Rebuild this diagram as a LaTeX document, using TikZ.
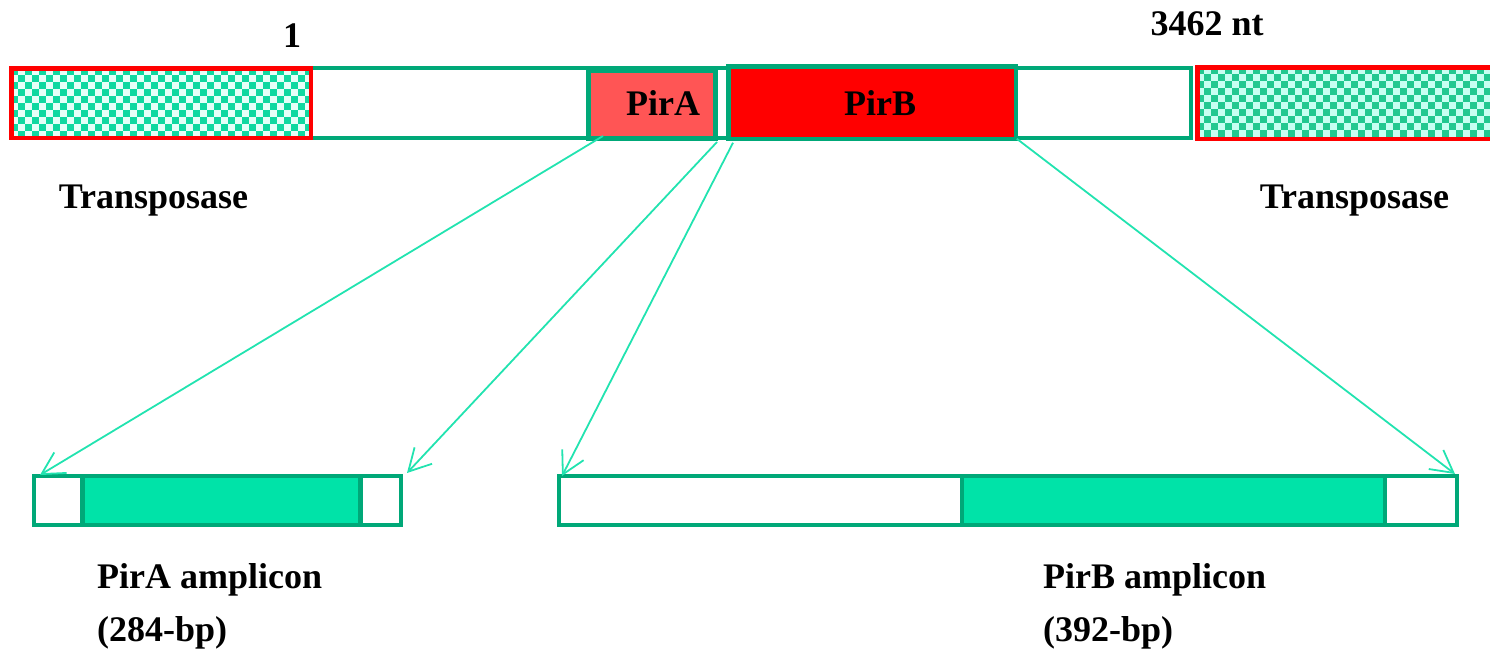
\documentclass[tikz,border=0pt]{standalone}
\usepackage{fontspec}
\setmainfont{Liberation Serif}
\usetikzlibrary{arrows.meta}

\definecolor{barline}{HTML}{00A878}
\definecolor{ampfill}{HTML}{00E3A8}
\definecolor{guide}{HTML}{22E3B0}
\definecolor{pirafill}{HTML}{FF5555}
\definecolor{pirbfill}{HTML}{FF0000}
\definecolor{tpred}{HTML}{FF0000}
\definecolor{chkgreenL}{HTML}{10D8A0}
\definecolor{chklightL}{HTML}{E6FFF8}
\definecolor{chkgreenR}{HTML}{22C890}
\definecolor{chklightR}{HTML}{C8FFF2}

% checkerboard fill: x1,y1,x2,y2,light colour,dark colour,columns
\newcommand\chequerfill[7]{%
  \begin{scope}
    \clip (#1,#2) rectangle (#3,#4);
    \fill[#5] (#1,#2) rectangle (#3,#4);
    \foreach \i in {0,...,#7}
      \foreach \j in {0,...,5} {
        \fill[#6] ({#1+14*\i},{#2+14*\j}) rectangle ++(7,7);
        \fill[#6] ({#1+7+14*\i},{#2+7+14*\j}) rectangle ++(7,7);
      }
  \end{scope}}

\begin{document}
\begin{tikzpicture}[x=1pt,y=-1pt,
  lbl/.style={font=\fontsize{36}{40}\selectfont\bfseries, inner sep=0pt},
  box/.style={draw=barline, line width=4.5pt, rectangle, inner sep=0pt,
              outer sep=0pt, anchor=north west},
  tpbox/.style={box, draw=tpred},
  guideline/.style={draw=guide, line width=1.8pt,
              -{Straight Barb[length=22pt,width=24pt,line width=1.8pt]}},
]
\useasboundingbox (0,0) rectangle (1490,651);

% ---- transposon map ----
\node[box, line width=4pt, minimum width=880, minimum height=70] (dna) at (311,68) {};
\node[box, line width=5pt, fill=pirafill, minimum width=127, minimum height=68] (pirA) at (588.5,70.5) {};
\node[box, fill=pirbfill, minimum width=287.5, minimum height=72.5] (pirB) at (728.25,66.25) {};

\chequerfill{11.25}{68.25}{310.75}{137.75}{chklightL}{chkgreenL}{21}
\node[tpbox, minimum width=299.5, minimum height=69.5] (tpL) at (11.25,68.25) {};
\chequerfill{1197.25}{67.25}{1500}{138.75}{chklightR}{chkgreenR}{22}
\node[tpbox, minimum width=310, minimum height=71.5] (tpR) at (1197.25,67.25) {};

\node[lbl] (pirAlbl) at (663,115) [anchor=base] {PirA};
\node[lbl] (pirBlbl) at (880,115) [anchor=base] {PirB};
\node[lbl, anchor=base] (start) at (292,47) {1};
\node[lbl, anchor=base] (end) at (1207,35) {3462 nt};
\node[lbl, anchor=base] (tpLlbl) at (153.5,208) {Transposase};
\node[lbl, anchor=base] (tpRlbl) at (1354.5,208) {Transposase};

% ---- amplicons ----
\node[box, line width=4.3pt, fill=white, minimum width=367, minimum height=49] (ampA) at (34,476) {};
\node[box, line width=4.3pt, fill=ampfill, minimum width=278, minimum height=49] (ampAcore) at (82.5,476) {};
\node[box, line width=4.3pt, fill=white, minimum width=898, minimum height=49] (ampB) at (559,476) {};
\node[box, line width=4.3pt, fill=ampfill, minimum width=423, minimum height=49] (ampBcore) at (962,476) {};

\node[lbl, anchor=base west] (ampAlbl) at (97,588) {PirA amplicon};
\node[lbl, anchor=base west] (ampAlen) at (97,641) {(284-bp)};
\node[lbl, anchor=base west] (ampBlbl) at (1043,588) {PirB amplicon};
\node[lbl, anchor=base west] (ampBlen) at (1043,641) {(392-bp)};

% ---- projection lines ----
\draw[guideline] ([shift={(14.5,-2.5)}]pirA.south west) -- ([shift={(6,-1)}]ampA.north west);
\draw[guideline] ([shift={(1.5,3.5)}]pirA.south east) -- ([shift={(6,-3)}]ampA.north east);
\draw[guideline] ([shift={(4.75,4)}]pirB.south west) -- ([shift={(3,0)}]ampB.north west);
\draw[guideline] ([shift={(1,0)}]pirB.south east) -- ([shift={(-2,-2)}]ampB.north east);
\end{tikzpicture}
\end{document}
